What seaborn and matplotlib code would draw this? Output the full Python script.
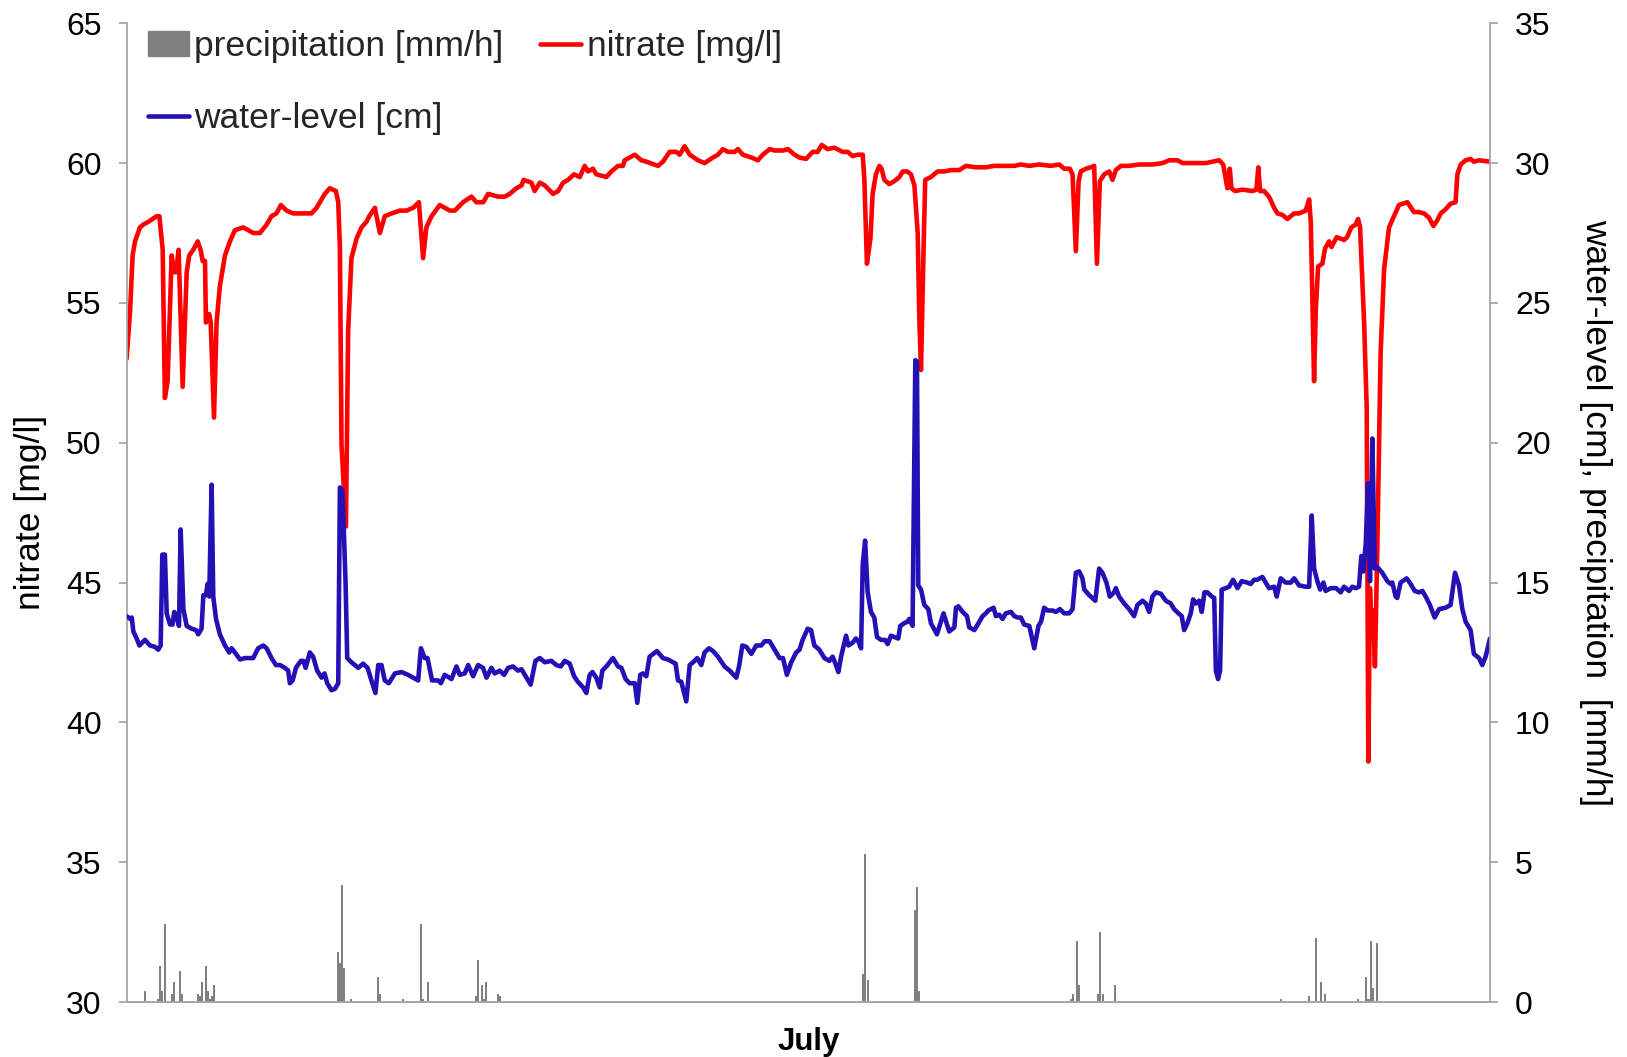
import matplotlib
matplotlib.use("Agg")
import matplotlib.pyplot as plt
import seaborn as sns
from matplotlib.patches import Patch
from matplotlib.lines import Line2D

# time axis = hours since 1 July 00:00 (744 h in the month)
nitrate_h = [0.0, 1.9, 3.3, 4.6, 7.3, 9.1, 11.9, 16.4, 17.9, 19.7, 20.9, 22.4, 24.6, 25.9, 27.0, 28.4,
             30.6, 32.8, 34.2, 36.4, 38.8, 40.4, 41.5, 42.8, 43.3, 45.1, 45.9, 47.7, 49.1, 50.9, 53.7,
             56.4, 59.1, 63.7, 69.1, 72.8, 76.4, 79.1, 81.8, 84.2, 87.3, 90.9, 100.9, 103.7, 108.2,
             110.9, 114.2, 115.5, 116.4, 117.3, 119.7, 120.9, 122.7, 125.5, 128.2, 130.9, 132.4, 135.5,
             138.2, 140.9, 144.6, 149.1, 152.7, 156.4, 159.5, 161.8, 163.6, 166.4, 170.9, 173.6, 176.4,
             179.1, 183.6, 188.2, 190.9, 194.6, 197.3, 202.7, 206.4, 209.1, 212.7, 215.5, 216.7, 220.9,
             222.7, 225.5, 228.2, 232.7, 235.5, 238.2, 240.9, 244.2, 247.3, 250.0, 251.8, 254.5, 256.3,
             261.8, 264.5, 268.2, 270.9, 271.8, 277.3, 280.9, 283.6, 290.0, 292.7, 296.3, 300.0, 301.8,
             304.5, 307.3, 311.8, 315.4, 320.0, 322.7, 325.4, 328.2, 331.8, 333.6, 336.3, 340.9, 344.5,
             347.2, 350.9, 353.6, 358.2, 360.9, 364.5, 367.1, 370.8, 374.4, 377.1, 379.3, 382.6, 386.2,
             390.8, 393.5, 396.2, 398.9, 401.7, 402.6, 404.0, 405.9, 407.1, 408.9, 410.8, 412.0, 413.5,
             416.2, 418.9, 421.7, 423.5, 426.0, 428.0, 429.9, 431.7, 432.6, 433.5, 435.0, 435.8, 438.9,
             442.6, 446.2, 449.9, 454.4, 458.0, 463.5, 468.9, 473.5, 479.8, 484.4, 488.0, 492.6, 498.0,
             504.4, 508.9, 511.6, 514.7, 516.2, 518.0, 519.5, 520.7, 523.5, 526.2, 528.0, 529.5, 531.1,
             533.5, 536.2, 538.0, 539.8, 542.6, 547.1, 552.5, 559.8, 565.3, 568.9, 573.5, 576.2, 588.9,
             592.5, 596.2, 598.4, 600.7, 602.0, 602.9, 604.9, 608.9, 614.4, 616.5, 617.6, 618.5, 620.7,
             623.4, 626.2, 628.0, 630.7, 633.4, 637.1, 639.8, 643.4, 645.3, 646.2, 648.0, 648.9, 650.2,
             652.5, 654.0, 656.2, 657.5, 660.3, 664.3, 666.0, 668.3, 670.7, 672.0, 673.1, 675.3, 676.7,
             677.6, 678.5, 679.4, 680.3, 681.2, 682.5, 684.3, 686.2, 688.9, 691.6, 694.3, 698.9, 702.5,
             705.0, 708.0, 710.7, 713.1, 715.2, 717.1, 719.8, 722.5, 725.2, 726.2, 728.0, 730.7, 733.4,
             735.2, 738.0, 744.0]
nitrate_mgl = [53.0, 54.7, 56.7, 57.2, 57.7, 57.8, 57.9, 58.1, 58.1, 56.9, 51.6, 52.2, 56.7, 56.1, 56.1, 56.9,
               52.0, 56.1, 56.7, 56.9, 57.2, 56.9, 56.5, 56.5, 54.3, 54.6, 54.3, 50.9, 54.3, 55.6, 56.7,
               57.2, 57.6, 57.7, 57.5, 57.5, 57.8, 58.1, 58.2, 58.5, 58.3, 58.2, 58.2, 58.4, 58.9,
               59.1, 59.0, 58.6, 57.0, 49.9, 47.0, 54.0, 56.6, 57.3, 57.7, 57.9, 58.1, 58.4,
               57.5, 58.1, 58.2, 58.3, 58.3, 58.4, 58.6, 56.6, 57.7, 58.1, 58.5, 58.4, 58.3,
               58.3, 58.6, 58.8, 58.6, 58.6, 58.9, 58.8, 58.8, 58.9, 59.1, 59.2, 59.4, 59.3,
               59.0, 59.3, 59.2, 58.9, 59.0, 59.3, 59.4, 59.6, 59.5, 59.9, 59.7, 59.8, 59.6,
               59.5, 59.7, 59.9, 59.9, 60.1, 60.3, 60.1, 60.05, 59.9, 60.05, 60.4, 60.4, 60.3,
               60.6, 60.3, 60.1, 60.0, 60.2, 60.3, 60.5, 60.4, 60.4, 60.5, 60.3, 60.2, 60.1,
               60.3, 60.5, 60.45, 60.45, 60.5, 60.3, 60.2, 60.15, 60.4, 60.4, 60.65, 60.5, 60.55,
               60.4, 60.4, 60.25, 60.3, 60.3, 59.4, 56.4, 57.3, 58.9, 59.6, 59.9, 59.8, 59.4,
               59.25, 59.35, 59.5, 59.7, 59.7, 59.6, 59.2, 57.5, 54.4, 52.6, 57.2, 59.4, 59.5,
               59.7, 59.7, 59.75, 59.75, 59.9, 59.85, 59.85, 59.9, 59.9, 59.9, 59.95, 59.9, 59.95,
               59.9, 59.95, 59.8, 59.8, 59.6, 56.85, 59.35, 59.7, 59.8, 59.85, 59.9, 56.4, 59.35,
               59.6, 59.7, 59.4, 59.75, 59.9, 59.9, 59.95, 59.95, 60.0, 60.1, 60.1, 60.0, 60.0,
               60.05, 60.1, 59.95, 59.1, 59.8, 59.1, 59.0, 59.05, 59.0, 59.05, 59.85, 59.0, 59.0,
               58.8, 58.4, 58.2, 58.15, 58.0, 58.2, 58.2, 58.3, 58.7, 57.9, 52.2, 54.7, 56.3,
               56.4, 56.95, 57.2, 57.0, 57.35, 57.25, 57.35, 57.7, 57.8, 58.0, 57.7, 54.3, 51.3,
               38.6, 44.8, 43.3, 44.0, 42.0, 46.2, 53.2, 56.2, 57.7, 58.1, 58.5, 58.6, 58.25,
               58.25, 58.2, 58.05, 57.75, 57.95, 58.2, 58.35, 58.55, 58.6, 59.6, 59.95, 60.1, 60.15,
               60.05, 60.1, 60.05]

level_h = [0.0, 2.0, 2.8, 3.7, 5.5, 7.0, 10.0, 12.8, 15.5, 17.3, 18.6, 19.5, 20.9, 21.9, 23.7, 25.1,
           26.0, 27.2, 28.6, 29.5, 31.0, 32.8, 35.5, 37.9, 39.1, 40.9, 41.9, 43.3, 44.2, 45.1, 46.4,
           47.3, 48.8, 50.9, 53.7, 56.0, 57.3, 59.1, 61.9, 64.6, 69.1, 71.8, 74.6, 76.4, 79.1, 81.5,
           83.7, 86.4, 88.2, 89.1, 90.6, 92.4, 95.1, 96.5, 97.7, 100.0, 101.8, 104.0, 106.4, 108.0,
           109.5, 111.8, 113.7, 115.5, 116.4, 117.8, 119.5, 120.4, 122.7, 126.4, 129.1, 131.5, 133.6,
           135.8, 137.3, 139.1, 140.9, 143.1, 146.4, 150.0, 153.6, 156.4, 159.1, 160.6, 162.7, 164.2,
           166.7, 170.0, 171.5, 173.6, 177.3, 180.0, 181.8, 184.5, 186.4, 189.1, 191.8, 194.5, 196.4,
           199.1, 200.9, 203.6, 206.0, 208.2, 210.9, 213.6, 215.5, 217.3, 220.5, 223.1, 225.5, 228.2,
           231.8, 234.5, 236.9, 239.1, 241.8, 244.2, 246.3, 249.1, 250.9, 252.7, 254.2, 256.3, 258.2,
           259.6, 261.8, 265.4, 268.2, 270.0, 272.3, 274.5, 277.3, 278.7, 280.3, 281.8, 283.6, 285.4,
           289.4, 292.7, 295.4, 298.2, 299.6, 300.9, 302.7, 305.4, 307.3, 310.0, 311.4, 313.6, 315.4,
           317.8, 320.0, 322.7, 326.3, 329.1, 332.7, 334.2, 336.0, 338.2, 340.9, 343.6, 346.3, 348.2,
           350.9, 353.6, 356.3, 358.2, 360.3, 362.7, 365.4, 367.2, 368.9, 371.7, 373.5, 375.3, 378.0,
           380.8, 383.5, 385.3, 387.1, 388.4, 389.9, 392.6, 393.9, 396.2, 398.0, 399.3, 400.8, 401.7,
           403.0, 404.4, 406.2, 408.0, 409.5, 411.7, 413.9, 415.3, 417.1, 419.0, 421.1, 422.2, 424.4,
           426.2, 427.1, 428.9, 430.4, 431.3, 432.0, 433.5, 435.3, 437.5, 438.9, 442.2, 445.8, 448.9,
           451.7, 452.6, 453.9, 456.2, 458.6, 459.8, 462.6, 464.9, 467.1, 468.9, 470.2, 473.1, 474.4,
           476.2, 478.0, 479.8, 482.6, 484.4, 486.2, 488.0, 489.8, 492.6, 495.3, 497.6, 499.0, 500.7,
           502.6, 505.3, 507.1, 509.3, 511.6, 514.4, 516.2, 518.0, 519.8, 521.6, 522.6, 525.3, 528.6,
           530.7, 532.5, 534.7, 536.5, 538.9, 539.8, 541.6, 544.4, 547.1, 549.8, 551.6, 554.4, 556.2,
           558.0, 559.8, 561.6, 564.4, 567.1, 569.8, 571.6, 574.0, 575.8, 577.1, 578.9, 580.7, 582.0,
           583.5, 585.3, 586.7, 588.2, 589.8, 592.2, 593.5, 594.4, 595.6, 596.7, 597.6, 599.8, 601.6,
           603.8, 606.2, 608.5, 611.6, 613.4, 615.3, 617.0, 619.8, 621.6, 623.4, 626.2, 627.6, 629.8,
           632.5, 635.3, 637.1, 639.8, 643.4, 645.3, 646.7, 648.0, 649.8, 651.3, 653.1, 654.3, 657.1,
           660.0, 662.5, 664.3, 667.1, 668.9, 670.7, 672.5, 673.8, 674.9, 676.2, 677.4, 678.5, 679.8,
           681.1, 682.5, 685.2, 688.0, 689.8, 690.7, 692.5, 693.4, 695.2, 698.5, 700.7, 702.9, 705.2,
           707.1, 708.9, 711.2, 713.8, 716.2, 719.8, 722.5, 724.9, 727.1, 728.9, 730.7, 733.4, 735.2,
           738.0, 739.8, 741.6, 744.0]
level_cm = [13.8, 13.7, 13.75, 13.25, 13.0, 12.75, 12.95, 12.75, 12.7, 12.6, 12.75, 16.0, 16.0, 13.9, 13.5, 13.5,
            13.95, 13.8, 13.45, 16.9, 14.05, 13.45, 13.35, 13.3, 13.15, 13.35, 14.55, 14.55, 14.95, 14.5, 18.5,
            14.5, 13.7, 13.15, 12.75, 12.5, 12.65, 12.5, 12.25, 12.3, 12.3, 12.65, 12.75, 12.65, 12.3, 12.05,
            12.05, 11.95, 11.85, 11.4, 11.5, 11.95, 12.2, 12.2, 11.95, 12.5, 12.35, 11.85, 11.6, 11.75,
            11.4, 11.15, 11.2, 11.4, 18.4, 18.3, 15.0, 12.3, 12.15, 11.95, 12.1, 11.95, 11.5,
            11.05, 12.05, 12.05, 11.5, 11.4, 11.75, 11.8, 11.7, 11.6, 11.5, 12.65, 12.3, 12.3,
            11.5, 11.5, 11.4, 11.7, 11.55, 12.0, 11.7, 11.75, 12.05, 11.65, 12.05, 11.95, 11.6,
            11.95, 11.75, 11.85, 11.7, 11.95, 12.0, 11.85, 11.9, 11.7, 11.35, 12.2, 12.3, 12.15,
            12.2, 12.05, 12.0, 12.2, 12.1, 11.65, 11.45, 11.25, 11.05, 11.7, 11.8, 11.6, 11.25,
            11.85, 12.0, 12.3, 12.0, 11.95, 11.55, 11.4, 11.4, 10.7, 11.7, 11.75, 11.65, 12.35,
            12.55, 12.3, 12.25, 12.15, 12.1, 11.5, 11.45, 10.75, 12.05, 12.2, 12.3, 12.05, 12.5,
            12.65, 12.55, 12.35, 12.0, 11.85, 11.6, 12.0, 12.75, 12.7, 12.45, 12.75, 12.75, 12.9,
            12.9, 12.6, 12.3, 12.3, 11.7, 12.15, 12.5, 12.6, 12.95, 13.35, 13.3, 12.75, 12.6,
            12.3, 12.2, 12.35, 12.05, 11.8, 12.35, 13.1, 12.75, 12.85, 13.0, 12.9, 12.65, 15.65,
            16.5, 14.65, 13.95, 13.75, 13.05, 12.95, 12.95, 12.8, 13.1, 13.05, 13.0, 13.45, 13.55,
            13.6, 13.7, 13.45, 22.95, 22.9, 14.9, 14.75, 14.2, 14.05, 13.55, 13.15, 13.9, 13.25,
            13.4, 14.1, 14.15, 13.95, 13.8, 13.4, 13.3, 13.55, 13.8, 13.9, 14.0, 14.1, 13.8,
            13.85, 13.7, 13.9, 13.95, 13.8, 13.75, 13.75, 13.5, 13.45, 12.65, 13.45, 13.6, 14.1,
            14.0, 14.0, 13.95, 14.05, 13.9, 13.9, 14.05, 15.35, 15.4, 15.15, 14.75, 14.55, 14.35,
            15.5, 15.35, 15.0, 14.5, 14.65, 14.8, 14.5, 14.25, 14.05, 13.8, 14.2, 14.35, 14.25,
            13.95, 14.5, 14.65, 14.6, 14.35, 14.25, 14.05, 13.9, 13.8, 13.3, 13.55, 13.9, 14.4,
            14.25, 14.35, 13.95, 14.65, 14.65, 14.5, 14.45, 11.85, 11.55, 11.85, 14.75, 14.8, 14.85,
            15.1, 14.8, 15.05, 15.0, 14.95, 15.1, 15.1, 15.2, 15.0, 14.8, 14.85, 14.5, 15.15,
            15.0, 15.0, 15.15, 14.9, 14.85, 14.85, 17.4, 15.5, 15.05, 14.75, 15.0, 14.7, 14.8,
            14.8, 14.65, 14.85, 14.7, 14.85, 14.8, 14.85, 15.95, 15.4, 16.4, 18.55, 15.05, 20.15,
            15.5, 15.55, 15.35, 15.05, 14.95, 15.0, 14.5, 14.45, 15.0, 15.15, 14.95, 14.7, 14.65,
            14.7, 14.5, 14.2, 13.75, 14.05, 14.1, 14.2, 15.35, 14.9, 14.05, 13.6, 13.3, 12.45,
            12.3, 12.05, 12.35, 13.0]

rain_h = [10.2, 17.1, 18.4, 19.5, 20.7, 24.7, 25.8, 29.3, 30.4, 38.8, 39.9, 41.0, 43.3, 44.4, 45.5, 46.4,
          47.5, 115.4, 116.5, 117.7, 118.8, 122.5, 137.0, 138.1, 150.8, 160.8, 161.9, 164.3, 190.5,
          191.6, 193.8, 194.9, 196.0, 202.5, 203.6, 402.0, 403.2, 404.4, 430.5, 431.5, 432.4, 515.5,
          516.7, 518.4, 519.6, 530.2, 531.4, 532.6, 539.5, 630.0, 645.4, 649.2, 651.6, 654.0, 672.2,
          676.5, 677.7, 679.1, 680.0, 682.4]
rain_mm = [0.4, 0.1, 1.3, 0.4, 2.8, 0.3, 0.7, 1.1, 0.3, 0.3, 0.2, 0.7, 1.3, 0.4, 0.1, 0.2,
           0.6, 1.8, 1.4, 4.2, 1.2, 0.1, 0.9, 0.3, 0.1, 2.8, 0.1, 0.7, 0.2,
           1.5, 0.6, 0.1, 0.7, 0.3, 0.2, 1.0, 5.3, 0.8, 3.3, 4.1, 0.4, 0.1,
           0.3, 2.2, 0.6, 0.3, 2.5, 0.3, 0.6, 0.1, 0.2, 2.3, 0.7, 0.3, 0.1,
           0.9, 0.1, 2.2, 0.5, 2.1]

red = '#FF0000'
blue = '#2311B5'
grey = '#808080'
axis_grey = '#A6A6A6'

sns.set_theme(style="white")
plt.rcParams['font.family'] = ['Liberation Sans', 'DejaVu Sans']

fig = plt.figure(figsize=(16.27, 10.57), dpi=100)
ax = fig.add_axes([0.0778, 0.052, 0.838, 0.926])
ax2 = ax.twinx()

# nitrate on the left axis, water level + rain on the right one
sns.lineplot(x=nitrate_h, y=nitrate_mgl, ax=ax, color=red, lw=3.3, sort=False, estimator=None)
ax2.bar(rain_h, rain_mm, width=1.1, color=grey, linewidth=0)
sns.lineplot(x=level_h, y=level_cm, ax=ax2, color=blue, lw=3.3, sort=False, estimator=None)

ax.set_xlim(0, 744)
ax.set_ylim(30, 65)
ax2.set_ylim(0, 35)
ax.set_yticks(range(30, 66, 5))
ax2.set_yticks(range(0, 36, 5))
ax.set_xticks([])

for a in (ax, ax2):
    for s in a.spines.values():
        s.set_color(axis_grey)
        s.set_linewidth(1.3)
    a.spines['top'].set_visible(False)
ax.spines['right'].set_visible(False)
ax2.spines['left'].set_visible(False)

ax.tick_params(axis='y', left=True, direction='out', length=6, width=1.3, color=axis_grey,
               labelsize=23, pad=12, labelcolor='black')
ax2.tick_params(axis='y', right=True, direction='out', length=6, width=1.3, color=axis_grey,
                labelsize=23, pad=12, labelcolor='black')

ax.set_ylabel('nitrate [mg/l]', fontsize=25.5, labelpad=14, color='black')
ax2.set_ylabel('water-level [cm], precipitation  [mm/h]', fontsize=25.5, rotation=270,
               labelpad=44, color='black')
ax.set_xlabel('July', fontsize=22.5, fontweight='bold', labelpad=18, color='black')

handles = [Patch(color=grey), Line2D([], [], color=blue, lw=3.3), Line2D([], [], color=red, lw=3.3)]
labels = ['precipitation [mm/h]', 'water-level [cm]', 'nitrate [mg/l]']
ax2.legend(handles, labels, ncol=2, loc='upper left', bbox_to_anchor=(0.0157, 0.993),
           frameon=False, fontsize=25.5, handlelength=1.15, handletextpad=0.15,
           columnspacing=1.05, labelspacing=1.1, borderpad=0, borderaxespad=0)

fig.savefig('out.png', dpi=100)
